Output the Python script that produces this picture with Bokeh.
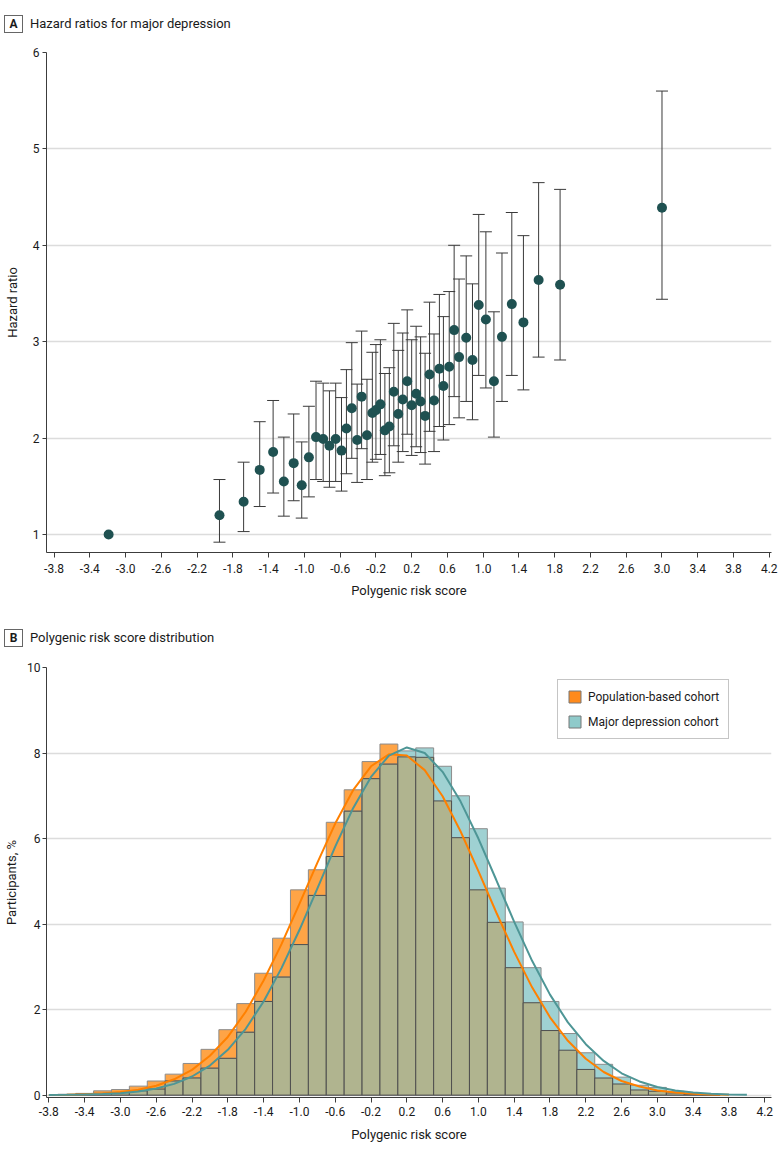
import numpy as np
from bokeh.plotting import figure
from bokeh.layouts import column
from bokeh.models import (Range1d, FixedTicker, PrintfTickFormatter, Div,
                          Legend, LegendItem, ColumnDataSource)
from bokeh.embed import file_html
from bokeh.resources import INLINE

FONT = "Roboto"

# ---------------- Panel A data: hazard ratios ----------------
prs_group_mean = [-3.19, -1.95, -1.68, -1.50, -1.35, -1.23, -1.12, -1.03, -0.95, -0.87,
                  -0.79, -0.72, -0.65, -0.585, -0.53, -0.47, -0.41, -0.36, -0.30, -0.24,
                  -0.20, -0.15, -0.10, -0.05, 0.00, 0.05, 0.10, 0.15, 0.20, 0.25,
                  0.30, 0.35, 0.40, 0.45, 0.51, 0.555, 0.62, 0.675, 0.73, 0.81,
                  0.88, 0.95, 1.03, 1.12, 1.21, 1.32, 1.45, 1.62, 1.86, 3.00]
hazard_ratio = [1.00, 1.20, 1.34, 1.67, 1.855, 1.55, 1.74, 1.51, 1.80, 2.01,
                1.99, 1.92, 1.99, 1.87, 2.10, 2.31, 1.98, 2.43, 2.03, 2.26,
                2.29, 2.35, 2.08, 2.12, 2.48, 2.25, 2.40, 2.59, 2.34, 2.46,
                2.38, 2.23, 2.66, 2.39, 2.72, 2.54, 2.74, 3.12, 2.84, 3.04,
                2.81, 3.38, 3.23, 2.59, 3.05, 3.39, 3.20, 3.64, 3.59, 4.39]
ci_lower = [None, 0.92, 1.03, 1.29, 1.43, 1.19, 1.35, 1.17, 1.39, 1.57,
            1.55, 1.49, 1.55, 1.45, 1.63, 1.79, 1.54, 1.89, 1.57, 1.75,
            1.78, 1.83, 1.61, 1.64, 1.92, 1.75, 1.86, 2.04, 1.82, 1.91,
            1.85, 1.73, 2.07, 1.86, 2.12, 1.98, 2.14, 2.43, 2.21, 2.38,
            2.19, 2.65, 2.52, 2.01, 2.38, 2.65, 2.50, 2.84, 2.81, 3.44]
ci_upper = [None, 1.57, 1.75, 2.17, 2.39, 2.01, 2.25, 1.96, 2.33, 2.59,
            2.57, 2.49, 2.57, 2.42, 2.71, 2.99, 2.56, 3.11, 2.61, 2.89,
            2.97, 3.02, 2.67, 2.73, 3.19, 2.91, 3.09, 3.33, 3.02, 3.16,
            3.05, 2.88, 3.41, 3.08, 3.49, 3.26, 3.52, 4.00, 3.65, 3.89,
            3.60, 4.32, 4.14, 3.31, 3.92, 4.34, 4.10, 4.65, 4.58, 5.60]
hr_ticks = [1, 2, 3, 4, 5, 6]

# ---------------- Panel B data: PRS distribution ----------------
bin_centers = [-3.6, -3.4, -3.2, -3.0, -2.8, -2.6, -2.4, -2.2, -2.0, -1.8,
               -1.6, -1.4, -1.2, -1.0, -0.8, -0.6, -0.4, -0.2, 0.0, 0.2,
               0.4, 0.6, 0.8, 1.0, 1.2, 1.4, 1.6, 1.8, 2.0, 2.2,
               2.4, 2.6, 2.8, 3.0, 3.2, 3.4, 3.6]
bin_width = 0.2
population_pct = [0.02, 0.04, 0.10, 0.13, 0.21, 0.33, 0.49, 0.74, 1.07, 1.53,
                  2.14, 2.85, 3.67, 4.80, 5.27, 6.38, 7.14, 7.80, 8.21, 7.91,
                  7.90, 6.88, 6.02, 4.80, 4.04, 2.98, 2.16, 1.51, 1.05, 0.60,
                  0.40, 0.26, 0.12, 0.09, 0.05, 0.02, 0.01]
depression_pct = [0.01, 0.02, 0.04, 0.06, 0.10, 0.14, 0.33, 0.40, 0.63, 0.86,
                  1.47, 2.19, 2.76, 3.52, 4.67, 5.58, 6.64, 7.40, 7.74, 8.05,
                  8.12, 7.69, 7.00, 6.23, 4.84, 4.05, 2.98, 2.19, 1.44, 0.99,
                  0.72, 0.42, 0.23, 0.18, 0.09, 0.03, 0.01]

pop_curve_x = [-3.8, -3.6, -3.4, -3.2, -3.0, -2.8, -2.6, -2.4, -2.2, -2.0,
               -1.8, -1.6, -1.4, -1.2, -1.0, -0.8, -0.6, -0.4, -0.2, 0.0,
               0.2, 0.4, 0.6, 0.8, 1.0, 1.2, 1.4, 1.6, 1.8, 2.0,
               2.2, 2.4, 2.6, 2.8, 3.0, 3.2, 3.4, 3.6, 3.8]
pop_curve_y = [0.004, 0.009, 0.019, 0.037, 0.07, 0.126, 0.22, 0.37, 0.59, 0.92,
               1.36, 1.95, 2.68, 3.53, 4.47, 5.43, 6.35, 7.13, 7.69, 7.97,
               7.94, 7.60, 6.99, 6.17, 5.24, 4.27, 3.35, 2.52, 1.82, 1.27,
               0.85, 0.54, 0.33, 0.20, 0.11, 0.06, 0.03, 0.016, 0.008]
dep_curve_x = [-3.8, -3.6, -3.4, -3.2, -3.0, -2.8, -2.6, -2.4, -2.2, -2.0,
               -1.8, -1.6, -1.4, -1.2, -1.0, -0.8, -0.6, -0.4, -0.2, 0.0,
               0.2, 0.4, 0.6, 0.8, 1.0, 1.2, 1.4, 1.6, 1.8, 2.0,
               2.2, 2.4, 2.6, 2.8, 3.0, 3.2, 3.4, 3.6, 3.8, 4.0]
dep_curve_y = [0.003, 0.006, 0.012, 0.023, 0.046, 0.085, 0.153, 0.263, 0.435, 0.69,
               1.06, 1.55, 2.19, 2.97, 3.86, 4.83, 5.81, 6.71, 7.44, 7.94,
               8.13, 8.00, 7.56, 6.87, 6.00, 5.03, 4.05, 3.14, 2.35, 1.70,
               1.19, 0.80, 0.51, 0.32, 0.19, 0.11, 0.06, 0.03, 0.015, 0.007]
pct_ticks = [0, 2, 4, 6, 8, 10]
prs_ticks = [-3.8, -3.4, -3.0, -2.6, -2.2, -1.8, -1.4, -1.0, -0.6, -0.2,
             0.2, 0.6, 1.0, 1.4, 1.8, 2.2, 2.6, 3.0, 3.4, 3.8, 4.2]

# ---------------- styling helpers ----------------
AXIS_COLOR = "#3c3c3c"
TEXT_COLOR = "#1a1a1a"
GRID_COLOR = "#dcdcdc"
W = 780


def style_axes(p, y_standoff, tick_standoff, x_tick_standoff, x_label_standoff):
    for ax in (p.xaxis[0], p.yaxis[0]):
        ax.axis_line_color = AXIS_COLOR
        ax.major_tick_line_color = AXIS_COLOR
        ax.major_tick_out = 5
        ax.major_tick_in = 0
        ax.minor_tick_line_color = None
        ax.major_label_text_font = FONT
        ax.major_label_text_font_size = "12px"
        ax.major_label_text_color = TEXT_COLOR
        ax.axis_label_text_font = FONT
        ax.axis_label_text_font_size = "13px"
        ax.axis_label_text_font_style = "normal"
        ax.axis_label_text_color = TEXT_COLOR
    p.yaxis[0].major_tick_out = 4
    p.yaxis[0].major_label_standoff = tick_standoff
    p.yaxis[0].axis_label_standoff = y_standoff
    p.xaxis[0].major_label_standoff = x_tick_standoff
    p.xaxis[0].axis_label_standoff = x_label_standoff
    p.xgrid.visible = False
    p.ygrid.grid_line_color = GRID_COLOR
    p.ygrid.grid_line_width = 1.5
    p.outline_line_color = None
    p.background_fill_color = "white"
    p.border_fill_color = "white"


def header_div(letter, text, height, top):
    html = (
        f'<div style="position:relative;width:{W}px;height:{height}px;'
        f'font-family:{FONT},sans-serif;color:{TEXT_COLOR};">'
        f'<div style="position:absolute;left:4px;top:{top}px;width:19px;height:18px;'
        f'box-sizing:border-box;border:1px solid #666666;font-weight:bold;font-size:12px;'
        f'line-height:16px;text-align:center;">{letter}</div>'
        f'<div style="position:absolute;left:30px;top:{top}px;height:18px;font-size:13px;'
        f'line-height:18px;white-space:nowrap;">{text}</div></div>'
    )
    return Div(text=html, width=W, height=height, margin=0)


# ---------------- Panel A ----------------
hA = header_div("A", "Hazard ratios for major depression", 40, 15)

pA = figure(width=W, height=580, x_range=Range1d(-3.885, 4.225), y_range=Range1d(0.813, 6.0),
            output_backend="svg", toolbar_location=None,
            min_border_left=46, min_border_right=9, min_border_top=12, min_border_bottom=68,
            x_axis_label="Polygenic risk score", y_axis_label="Hazard ratio")
style_axes(pA, y_standoff=10, tick_standoff=3, x_tick_standoff=6, x_label_standoff=7)
pA.xaxis.ticker = FixedTicker(ticks=prs_ticks)
pA.xaxis.formatter = PrintfTickFormatter(format="%.1f")
pA.yaxis.ticker = FixedTicker(ticks=hr_ticks)
pA.ygrid.ticker = FixedTicker(ticks=hr_ticks)

idx = [i for i, v in enumerate(ci_lower) if v is not None]
ci_src = ColumnDataSource(dict(
    x=[prs_group_mean[i] for i in idx],
    lo=[ci_lower[i] for i in idx],
    hi=[ci_upper[i] for i in idx],
))
pA.segment(x0="x", y0="lo", x1="x", y1="hi", source=ci_src, line_color="#3a3a3a", line_width=1)
pA.scatter(x="x", y="lo", source=ci_src, marker="dash", size=12, line_color="#3a3a3a", line_width=1)
pA.scatter(x="x", y="hi", source=ci_src, marker="dash", size=12, line_color="#3a3a3a", line_width=1)
pA.scatter(x=prs_group_mean, y=hazard_ratio, size=10, fill_color="#1f5151", line_color=None)

# ---------------- Panel B ----------------
hB = header_div("B", "Polygenic risk score distribution", 36, 9)

pB = figure(width=W, height=499, x_range=Range1d(-3.826, 4.275), y_range=Range1d(-0.056, 10.0),
            output_backend="svg", toolbar_location=None,
            min_border_left=46, min_border_right=9, min_border_top=11, min_border_bottom=58,
            x_axis_label="Polygenic risk score", y_axis_label="Participants, %")
style_axes(pB, y_standoff=5, tick_standoff=2, x_tick_standoff=4, x_label_standoff=8)
pB.xaxis.ticker = FixedTicker(ticks=prs_ticks)
pB.xaxis.formatter = PrintfTickFormatter(format="%.1f")
pB.yaxis.ticker = FixedTicker(ticks=pct_ticks)
pB.ygrid.ticker = FixedTicker(ticks=pct_ticks)

centers = np.array(bin_centers)
pop = np.array(population_pct)
dep = np.array(depression_pct)
hist_src = ColumnDataSource(dict(
    left=centers - bin_width / 2, right=centers + bin_width / 2,
    pop=pop, dep=dep, both=np.minimum(pop, dep),
))
pB.quad(left="left", right="right", bottom=0, top="pop", source=hist_src,
        fill_color="#fea446", line_color="#8c8c8c", line_width=1)
pB.quad(left="left", right="right", bottom=0, top="dep", source=hist_src,
        fill_color="#9fd1d2", line_color="#8c8c8c", line_width=1)
pB.quad(left="left", right="right", bottom=0, top="both", source=hist_src,
        fill_color="#b0b48f", line_color="#4f4f4f", line_width=1)

pB.line(pop_curve_x, pop_curve_y, line_color="#ff8000", line_width=2)
pB.line(dep_curve_x, dep_curve_y, line_color="#4e9696", line_width=2)

# legend swatches: hidden renderers carrying the legend colours
sw_pop = pB.quad(left="left", right="right", bottom=0, top="pop", source=hist_src,
                 fill_color="#ff8a1c", line_color="#777777", visible=False)
sw_dep = pB.quad(left="left", right="right", bottom=0, top="dep", source=hist_src,
                 fill_color="#8fcaca", line_color="#777777", visible=False)
legend = Legend(items=[LegendItem(label="Population-based cohort", renderers=[sw_pop]),
                       LegendItem(label="Major depression cohort", renderers=[sw_dep])],
                location=(511, 358), label_text_font=FONT, label_text_font_size="12px",
                label_text_color=TEXT_COLOR, glyph_width=15, glyph_height=15,
                label_height=15, label_standoff=6, spacing=10, padding=9, margin=0,
                border_line_color="#8c8c8c", border_line_width=1,
                background_fill_color="white", background_fill_alpha=1.0,
                inactive_fill_alpha=0.0)
pB.add_layout(legend)

layout = column(hA, pA, hB, pB, spacing=0)
open("out.html", "w").write(file_html(layout, INLINE))
